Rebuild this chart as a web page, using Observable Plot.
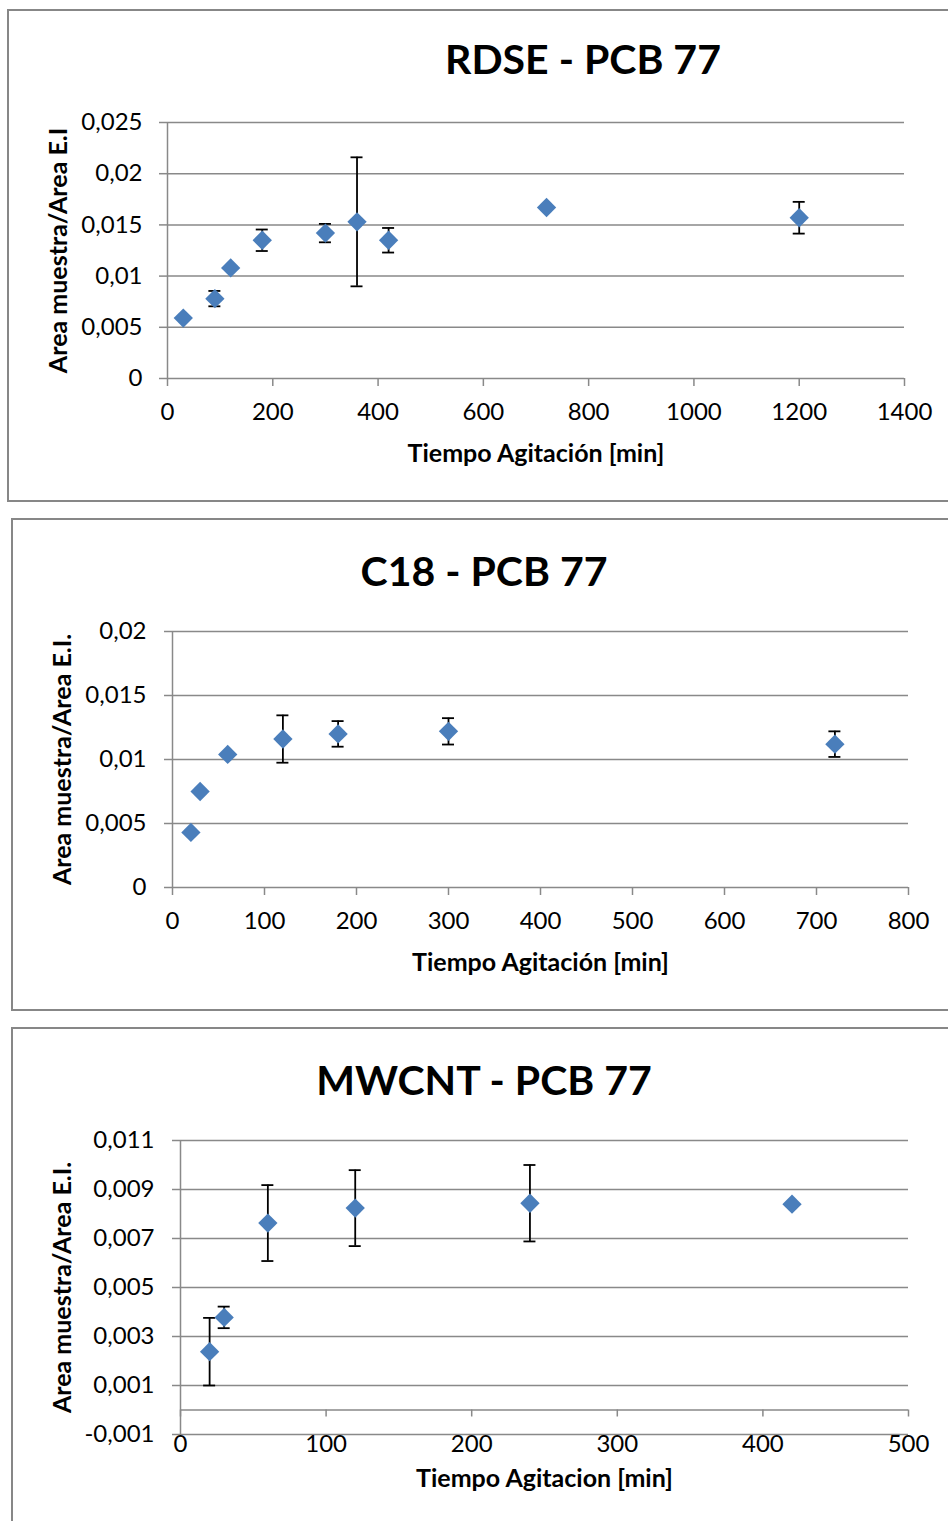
<!DOCTYPE html>
<html><head><meta charset="utf-8">
<script src="https://cdn.jsdelivr.net/npm/d3@7"></script>
<script src="https://cdn.jsdelivr.net/npm/@observablehq/plot@0.6"></script>
<style>
html,body{margin:0;padding:0;background:#fff;}
body{width:948px;height:1521px;position:relative;overflow:hidden;font-family:Lato,"Open Sans",sans-serif;}
.box{position:absolute;border:2px solid #878787;box-sizing:border-box;background:#fff;}
.title{position:absolute;font-weight:bold;font-size:41px;transform:translate(-50%,-50%);white-space:nowrap;color:#000;line-height:1;}
.chart{position:absolute;left:0;}
</style></head><body>
<script>
// ---- Panel 1: RDSE - PCB 77
const rdseTitle = "RDSE - PCB 77";
const rdseTime = [30, 90, 120, 180, 300, 360, 420, 720, 1200];
const rdseRatio = [0.0059, 0.0078, 0.0108, 0.0135, 0.0142, 0.0153, 0.0135, 0.0167, 0.0157];
const rdseErr = [null, 0.00075, null, 0.00105, 0.0009, 0.0063, 0.0012, null, 0.00155];
const rdseXTicks = [0, 200, 400, 600, 800, 1000, 1200, 1400];
const rdseYTicks = [0, 0.005, 0.01, 0.015, 0.02, 0.025];

// ---- Panel 2: C18 - PCB 77
const c18Title = "C18 - PCB 77";
const c18Time = [20, 30, 60, 120, 180, 300, 720];
const c18Ratio = [0.0043, 0.0075, 0.0104, 0.0116, 0.0120, 0.0122, 0.0112];
const c18Err = [null, null, null, 0.00185, 0.001, 0.00103, 0.001];
const c18XTicks = [0, 100, 200, 300, 400, 500, 600, 700, 800];
const c18YTicks = [0, 0.005, 0.01, 0.015, 0.02];

// ---- Panel 3: MWCNT - PCB 77
const mwTitle = "MWCNT - PCB 77";
const mwTime = [20, 30, 60, 120, 240, 420];
const mwRatio = [0.00238, 0.00378, 0.00763, 0.00824, 0.00844, 0.0084];
const mwErr = [0.00138, 0.00044, 0.00155, 0.00155, 0.00156, null];
const mwXTicks = [0, 100, 200, 300, 400, 500];
const mwYTicks = [-0.001, 0.001, 0.003, 0.005, 0.007, 0.009, 0.011];

const yLabelA = "Area muestra/Area E.I";
const yLabelB = "Area muestra/Area E.I.";
const xLabelA = "Tiempo Agitación [min]";
const xLabelB = "Tiempo Agitacion [min]";

const GRID = "#898989";
const BLUE = "#4a7ebb";
const FS = 24;
const LFS = 25;
const fmt = d => String(d).replace(".", ",");

function panel(cfg) {
  const box = document.createElement("div");
  box.className = "box";
  Object.assign(box.style, {left: cfg.box[0] + "px", top: cfg.box[1] + "px", width: cfg.box[2] + "px", height: cfg.box[3] + "px"});
  document.body.appendChild(box);

  const rows = cfg.x.map((v, i) => ({x: v, y: cfg.y[i], e: cfg.e[i]}));
  const bars = rows.filter(d => d.e != null);

  const marks = [
    Plot.ruleY(cfg.yTicks, {stroke: GRID, strokeWidth: 1.5}),
    Plot.ruleX([0], {stroke: GRID, strokeWidth: 1.5}),
    Plot.axisY({ticks: cfg.yTicks, tickSize: 8, tickPadding: cfg.yPad, tickFormat: fmt, stroke: GRID, strokeWidth: 1.5, fill: "#000", fontSize: FS, label: null})
  ];
  if (cfg.axisAtZero) {
    marks.push(Plot.ruleY([0], {stroke: GRID, strokeWidth: 1.5}));
    marks.push(Plot.ruleX(cfg.xTicks, {x: d => d, y1: 0, y2: 0, insetBottom: -7, stroke: GRID, strokeWidth: 1.5}));
    marks.push(Plot.axisX({ticks: cfg.xTicks, tickSize: 0, tickPadding: cfg.xPad, tickFormat: fmt, fill: "#000", fontSize: FS, label: null}));
  } else {
    marks.push(Plot.axisX({ticks: cfg.xTicks, tickSize: 8, tickPadding: cfg.xPad, tickFormat: fmt, stroke: GRID, strokeWidth: 1.5, fill: "#000", fontSize: FS, label: null}));
  }
  marks.push(
    Plot.ruleX(bars, {x: "x", y1: d => d.y - d.e, y2: d => d.y + d.e, stroke: "#000", strokeWidth: 1.8}),
    Plot.ruleY(bars, {y: d => d.y + d.e, x1: "x", x2: "x", insetLeft: -6, insetRight: -6, stroke: "#000", strokeWidth: 1.8}),
    Plot.ruleY(bars, {y: d => d.y - d.e, x1: "x", x2: "x", insetLeft: -6, insetRight: -6, stroke: "#000", strokeWidth: 1.8}),
    Plot.dot(rows, {x: "x", y: "y", symbol: "diamond2", r: 8.7, fill: BLUE, stroke: "none"}),
    Plot.text([cfg.xLabel], {text: d => d, frameAnchor: "bottom", dy: cfg.xLabelDy, textAnchor: "middle", lineAnchor: "middle", fontWeight: "bold", fontSize: LFS, fill: "#000"}),
    Plot.text([cfg.yLabel], {text: d => d, frameAnchor: "left", rotate: -90, dx: cfg.yLabelDx, textAnchor: "middle", lineAnchor: "middle", fontWeight: "bold", fontSize: LFS, fill: "#000"})
  );

  const svg = Plot.plot({
    width: 948,
    height: cfg.height,
    marginTop: cfg.m[0], marginRight: cfg.m[1], marginBottom: cfg.m[2], marginLeft: cfg.m[3],
    x: {domain: cfg.xDomain},
    y: {domain: cfg.yDomain},
    style: {fontFamily: "Lato, 'Open Sans', sans-serif", color: "#000", background: "transparent", overflow: "visible"},
    marks
  });
  svg.classList.add("chart");
  svg.style.top = cfg.top + "px";
  svg.style.position = "absolute";
  svg.style.left = "0px";
  document.body.appendChild(svg);

  const t = document.createElement("div");
  t.className = "title";
  t.textContent = cfg.title;
  t.style.left = cfg.titlePos[0] + "px";
  t.style.top = cfg.titlePos[1] + "px";
  document.body.appendChild(t);
}

panel({
  box: [7, 9, 960, 493], top: 10, height: 490, m: [112, 44, 122, 167],
  x: rdseTime, y: rdseRatio, e: rdseErr, xTicks: rdseXTicks, yTicks: rdseYTicks,
  xDomain: [0, 1400], yDomain: [0, 0.025], yPad: 17, xPad: 16,
  title: rdseTitle, titlePos: [583, 58], xLabel: xLabelA, yLabel: yLabelA, xLabelDy: 75, yLabelDx: -109
});
panel({
  box: [11, 518, 960, 493], top: 519, height: 491, m: [112, 40, 123, 172],
  x: c18Time, y: c18Ratio, e: c18Err, xTicks: c18XTicks, yTicks: c18YTicks,
  xDomain: [0, 800], yDomain: [0, 0.02], yPad: 18, xPad: 16,
  title: c18Title, titlePos: [484, 570], xLabel: xLabelA, yLabel: yLabelB, xLabelDy: 75, yLabelDx: -110
});
panel({
  box: [11, 1027, 960, 520], top: 1028, height: 493, m: [112, 40, 87, 180],
  x: mwTime, y: mwRatio, e: mwErr, xTicks: mwXTicks, yTicks: mwYTicks,
  xDomain: [0, 500], yDomain: [-0.001, 0.011], yPad: 18, xPad: 0, axisAtZero: true,
  title: mwTitle, titlePos: [484, 1079], xLabel: xLabelB, yLabel: yLabelB, xLabelDy: 44, yLabelDx: -118
});
</script>
</body></html>
